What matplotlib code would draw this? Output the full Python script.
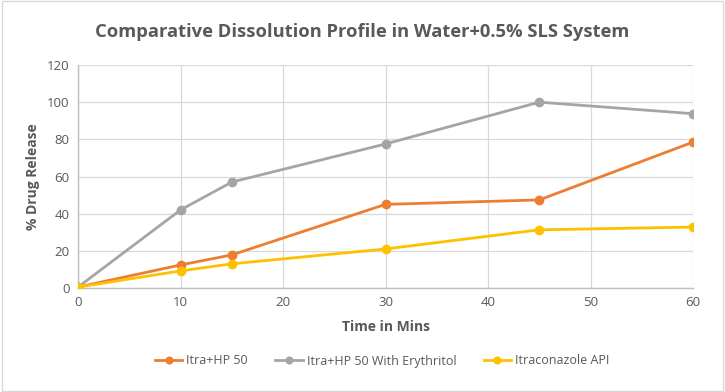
import matplotlib
matplotlib.use("Agg")
import matplotlib.pyplot as plt

time = [0, 10, 15, 30, 45, 60]
itra_hp50 = [0.5, 12.4, 17.8, 45.0, 47.4, 78.5]
itra_hp50_ery = [0.5, 42.0, 57.0, 77.5, 100.0, 93.8]
itra_api = [0.5, 9.2, 13.0, 21.0, 31.3, 32.8]
labels = ["Itra+HP 50", "Itra+HP 50 With Erythritol", "Itraconazole API"]
colors = ["#ED7D31", "#A5A5A5", "#FFC000"]
xticks = [0, 10, 20, 30, 40, 50, 60]
yticks = [0, 20, 40, 60, 80, 100, 120]

plt.rcParams['font.family'] = ['Open Sans', 'DejaVu Sans']

fig = plt.figure(figsize=(7.25, 3.92), dpi=100)
fig.patch.set_facecolor('white')
ax = fig.add_axes([78/725, 1-288/392, (693-78)/725, (288-65)/392])

for ys, lab, c in zip([itra_hp50, itra_hp50_ery, itra_api], labels, colors):
    ax.plot(time, ys, color=c, lw=2, marker='o', ms=6, label=lab, zorder=3)

ax.set_xlim(0, 60)
ax.set_ylim(0, 120)
ax.set_xticks(xticks)
ax.set_yticks(yticks)
ax.grid(True, color='#D9D9D9', lw=0.9, zorder=0)
ax.set_axisbelow(True)
for s in ['top', 'right']:
    ax.spines[s].set_visible(False)
for s in ['left', 'bottom']:
    ax.spines[s].set_color('#BFBFBF')
    ax.spines[s].set_linewidth(1)
ax.tick_params(axis='both', length=0, colors='#595959', labelsize=9.5, pad=6)
ax.set_xlabel("Time in Mins", fontsize=10, fontweight='bold', color='#595959', labelpad=8)
ax.set_ylabel("% Drug Release", fontsize=10, fontweight='bold', color='#595959', labelpad=5)

fig.text(0.5, 1-32/392, "Comparative Dissolution Profile in Water+0.5% SLS System",
         ha='center', va='center', fontsize=13.2, fontweight='bold', color='#595959')

fig.legend(loc='center', bbox_to_anchor=(0.527, 1-361/392), ncol=3, frameon=False,
           fontsize=9, labelcolor='#595959', handlelength=2.2, handletextpad=0.3,
           columnspacing=2.2, markerscale=0.8)

border = plt.Rectangle((0.003, 0.003), 0.994, 0.994, transform=fig.transFigure,
                       fill=False, edgecolor='#D9D9D9', lw=1)
fig.patches.append(border)

fig.savefig("out.png", dpi=100, facecolor='white')
